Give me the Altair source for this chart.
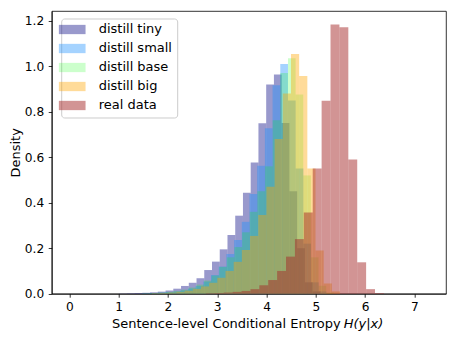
import altair as alt
import pandas as pd

series = ["distill tiny", "distill small", "distill base", "distill big", "real data"]
colors = ["rgba(0,0,128,0.4)", "rgba(30,144,255,0.4)", "rgba(0,255,0,0.2)",
          "rgba(255,165,0,0.4)", "rgba(165,42,42,0.5)"]

# first bin edge and bin width of each histogram
bin_start = [1.01, 1.471, 1.49, 1.674, 2.771]
bin_width = [0.157, 0.156, 0.155, 0.166, 0.1805]

tiny = [0.001, 0.002, 0.003, 0.004, 0.006, 0.009, 0.014, 0.022, 0.034, 0.048,
        0.068, 0.104, 0.141, 0.195, 0.258, 0.343, 0.444, 0.577, 0.749, 0.92,
        0.964, 0.75, 0.45, 0.2, 0.05, 0.01]
small = [0.001, 0.002, 0.004, 0.006, 0.009, 0.014, 0.022, 0.034, 0.053, 0.082,
         0.119, 0.174, 0.236, 0.316, 0.438, 0.563, 0.727, 0.917, 1.01,
         0.85, 0.55, 0.22, 0.05, 0.01]
base = [0.002, 0.003, 0.005, 0.008, 0.012, 0.018, 0.027, 0.04, 0.058, 0.08,
        0.118, 0.16, 0.205, 0.27, 0.36, 0.45, 0.56, 0.763, 0.97, 1.035,
        0.876, 0.52, 0.16, 0.035, 0.005]
big = [0.002, 0.003, 0.005, 0.008, 0.013, 0.021, 0.032, 0.048, 0.07, 0.1,
       0.14, 0.192, 0.254, 0.346, 0.47, 0.68, 0.88, 1.054, 0.957, 0.551,
       0.19, 0.045, 0.01]
real = [0.002, 0.003, 0.005, 0.008, 0.012, 0.02, 0.037, 0.06, 0.10, 0.163,
        0.24, 0.357, 0.551, 0.848, 1.184, 1.172, 0.59, 0.138, 0.02, 0.003]

heights = [tiny, small, base, big, real]

rows = []
for k, (name, s, w, hs) in enumerate(zip(series, bin_start, bin_width, heights)):
    for i, h in enumerate(hs):
        rows.append({"series": name, "x0": s + i * w, "x1": s + (i + 1) * w,
                     "density": h, "order": k})
df = pd.DataFrame(rows)

x_ticks = [0, 1, 2, 3, 4, 5, 6, 7]
y_ticks = [0.0, 0.2, 0.4, 0.6, 0.8, 1.0, 1.2]
FONT = "DejaVu Sans"

bars = alt.Chart(df).mark_rect(strokeWidth=0).encode(
    x=alt.X("x0:Q",
            scale=alt.Scale(domain=[-0.357, 7.64], nice=False, zero=False),
            axis=alt.Axis(values=x_ticks, title=None, format="d")),
    x2="x1:Q",
    y=alt.Y("density:Q", stack=None,
            scale=alt.Scale(domain=[0, 1.243], nice=False),
            axis=alt.Axis(values=y_ticks, format=".1f", title="Density")),
    y2=alt.datum(0),
    color=alt.Color("series:N",
                    scale=alt.Scale(domain=series, range=colors),
                    legend=alt.Legend(
                        title=None, orient="none", legendX=9.5, legendY=7.5,
                        symbolType="M-2.87,-1H2.87V1H-2.87Z", symbolSize=86.5,
                        symbolStrokeWidth=0, labelOffset=20,
                        labelFontSize=13, labelFont=FONT, labelColor="black",
                        rowPadding=5, padding=4.5,
                        fillColor="rgba(255,255,255,0.8)", strokeColor="#cccccc",
                        cornerRadius=3)),
    order=alt.Order("order:Q"),
)

title_df = pd.DataFrame({"a": ["Sentence-level Conditional Entropy"], "b": ["H(y|x)"]})
t1 = alt.Chart(title_df).mark_text(align="right", baseline="alphabetic", font=FONT,
                                   fontSize=13, color="black").encode(
    text="a:N", x=alt.value(289), y=alt.value(317))
t2 = alt.Chart(title_df).mark_text(align="left", baseline="alphabetic", font=FONT,
                                   fontSize=13, fontStyle="italic", color="black").encode(
    text="b:N", x=alt.value(292), y=alt.value(317))

chart = alt.layer(bars, t1, t2).properties(
    width=394.3, height=282.7,
    autosize=alt.AutoSizeParams(type="none"),
    padding={"left": 43.7, "top": 3, "right": 3, "bottom": 37},
).configure_view(
    stroke="black", strokeWidth=0.8
).configure_axis(
    domainColor="black", domainWidth=0.8, tickColor="black", tickWidth=0.8,
    tickSize=3.5, labelColor="black", labelFont=FONT, labelFontSize=12.2,
    titleFont=FONT, titleFontSize=13, titleColor="black", titleFontWeight="normal",
    grid=False, labelPadding=3.5
).configure_axisY(
    titlePadding=2, labelPadding=4.5
)

chart.save("out.html", embed_options={"renderer": "svg", "actions": False})
